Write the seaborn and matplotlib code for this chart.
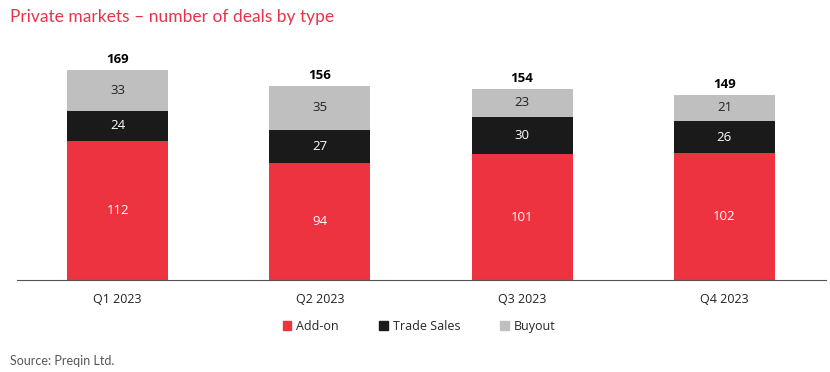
import matplotlib
matplotlib.use("Agg")
import matplotlib.pyplot as plt
import pandas as pd
import seaborn as sns
from matplotlib.patches import Patch

# data
quarters = ["Q1 2023", "Q2 2023", "Q3 2023", "Q4 2023"]
add_on = [112, 94, 101, 102]
trade_sales = [24, 27, 30, 26]
buyout = [33, 35, 23, 21]
totals = [169, 156, 154, 149]

red = "#EE3340"
black = "#1A1A1A"
grey = "#BFBFBF"

df = pd.DataFrame({"quarter": quarters, "add_on": add_on,
                   "trade": trade_sales, "buyout": buyout})
df["lvl2"] = df["add_on"] + df["trade"]
df["lvl3"] = df["lvl2"] + df["buyout"]

sns.set_style("white")
plt.rcParams["font.family"] = ["Open Sans", "DejaVu Sans"]

fig = plt.figure(figsize=(8.3, 3.72), dpi=100)
ax = fig.add_axes([0.0199, 0.2473, 0.9747, 0.6183])

# stacked bars drawn back to front
for col, c in [("lvl3", grey), ("lvl2", black), ("add_on", red)]:
    sns.barplot(data=df, x="quarter", y=col, color=c, width=0.5,
                saturation=1, linewidth=0, edgecolor=c, ax=ax)

ax.set_ylim(0, 185)
ax.set_xlim(-0.5, 3.5)
ax.set_xlabel("")
ax.set_ylabel("")
ax.set_yticks([])
for s in ["top", "right", "left"]:
    ax.spines[s].set_visible(False)
ax.spines["bottom"].set_color("#555555")
ax.spines["bottom"].set_linewidth(0.8)
ax.tick_params(axis="x", length=0, labelsize=9, colors="#222222", pad=9)

for i in range(len(quarters)):
    ax.text(i, add_on[i] / 2, str(add_on[i]), ha="center", va="center",
            color="white", fontsize=9.5)
    ax.text(i, add_on[i] + trade_sales[i] / 2, str(trade_sales[i]),
            ha="center", va="center", color="white", fontsize=9.5)
    ax.text(i, add_on[i] + trade_sales[i] + buyout[i] / 2, str(buyout[i]),
            ha="center", va="center", color="#222222", fontsize=9.5)
    ax.text(i, totals[i] + 3, str(totals[i]), ha="center", va="bottom",
            color="black", fontsize=9.5, fontweight="bold")

handles = [Patch(color=red, label="Add-on"),
           Patch(color=black, label="Trade Sales"),
           Patch(color=grey, label="Buyout")]
fig.legend(handles=handles, loc="center", bbox_to_anchor=(0.505, 0.123),
           ncol=3, frameon=False, fontsize=9, handlelength=0.7,
           handleheight=0.7, columnspacing=3.2, handletextpad=0.4)

fig.text(0.012, 0.955, "Private markets \u2013 number of deals by type",
         color="#E8344A", fontsize=12.5, ha="left", va="center",
         family=["Lato", "DejaVu Sans"])
fig.text(0.012, 0.03, "Source: Preqin Ltd.", color="#555555",
         fontsize=9, ha="left", va="center", family=["Lato", "DejaVu Sans"])

fig.savefig("out.png", dpi=100)
